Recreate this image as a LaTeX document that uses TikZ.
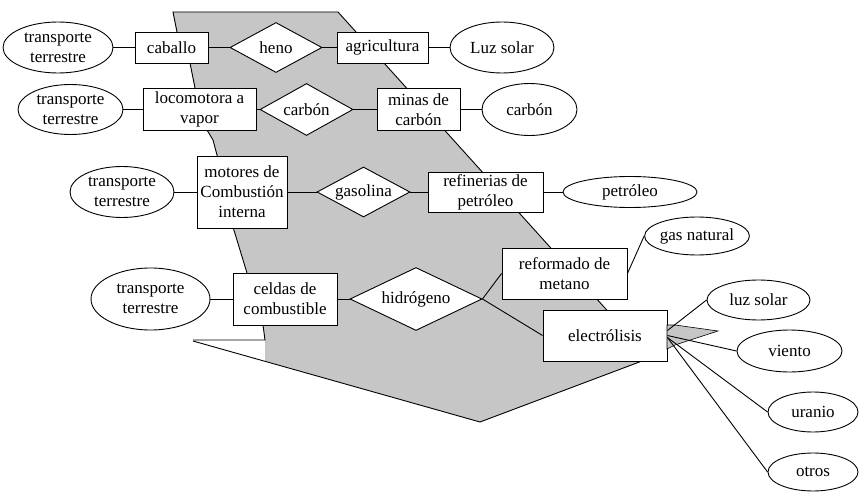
\documentclass[tikz,border=0pt]{standalone}
\usepackage{fontspec}
\setmainfont{Liberation Serif}
\usetikzlibrary{shapes.geometric}
\definecolor{bandgray}{RGB}{198,198,198}
\begin{document}
\begin{tikzpicture}[x=1pt,y=-1pt,
  every node/.style={font=\fontsize{17}{20}\selectfont, align=center, inner sep=0pt},
  box/.style={draw, fill=white, line width=0.9pt, rectangle},
  ell/.style={draw, fill=white, line width=0.9pt, ellipse},
  rel/.style={draw, fill=white, line width=0.9pt, diamond, shape aspect=2},
  conn/.style={line width=0.9pt},
  edge line/.style={line width=0.9pt}]
\useasboundingbox (0,0) rectangle (863,492);
\fill[white] (0,0) rectangle (863,492);

% big gray band
\fill[bandgray] (173,12) -- (338,12) -- (650,358) -- (480,422) -- (265,361) -- (265,340)
  -- (263,325) -- (247,273) -- (233,227) -- (217,155) -- (213,140) -- (207,130)
  -- (195,88) -- (190,63) -- (177,32) -- cycle;
\draw[edge line] (338,12) -- (173,12) -- (177,32) -- (190,63) -- (195,88) -- (207,130)
  -- (213,140) -- (217,155) -- (233,227) -- (247,273) -- (263,325) -- (265,340) -- (193,340);
\draw[edge line] (193,341) -- (480,422) -- (650,358) -- (338,12);

% row 1
\node[ell, minimum width=110pt, minimum height=51pt] (t1) at (58,47.5) {transporte\\terrestre};
\node[box, minimum width=73pt, minimum height=31pt] (caballo) at (171.5,47.5) {caballo};
\node[rel, minimum width=92pt, minimum height=50pt] (heno) at (276,47.5) {heno};
\node[box, minimum width=91pt, minimum height=31pt] (agri) at (382.5,47.5) {agricultura};
\node[ell, minimum width=104pt, minimum height=51pt] (luz1) at (502,47.5) {Luz solar};

% row 2
\node[ell, minimum width=105pt, minimum height=50pt] (t2) at (70.5,109.5) {transporte\\terrestre};
\node[box, minimum width=113pt, minimum height=42pt] (loco) at (199.5,109.5) {locomotora a\\vapor};
\node[rel, minimum width=93pt, minimum height=52pt] (carbonD) at (306.5,109.5) {carbón};
\node[box, minimum width=83pt, minimum height=42pt] (minas) at (418.5,109.5) {minas de\\carbón};
\node[ell, minimum width=95pt, minimum height=52pt] (carbonE) at (529.5,109.5) {carbón};

% row 3
\node[ell, minimum width=104pt, minimum height=51pt] (t3) at (122,192) {transporte\\terrestre};
\node[box, minimum width=90pt, minimum height=72pt] (motores) at (242,192) {motores de\\Combustión\\interna};
\node[rel, minimum width=93pt, minimum height=50pt] (gasolina) at (363.5,192) {gasolina};
\node[box, minimum width=115pt, minimum height=40pt] (refin) at (485.5,192) {refinerias de\\petróleo};
\node[ell, minimum width=134pt, minimum height=31pt] (petro) at (630,192) {petróleo};

% row 4
\node[ell, minimum width=104pt, minimum height=38pt] (gas) at (697,236) {gas natural};
\node[box, minimum width=125pt, minimum height=51pt] (reform) at (564.5,273.5) {reformado de\\metano};
\node[ell, minimum width=119pt, minimum height=62pt] (t4) at (150.5,299) {transporte\\terrestre};
\node[box, minimum width=104pt, minimum height=52pt] (celdas) at (285,299) {celdas de\\combustible};
\node[rel, minimum width=132pt, minimum height=63pt] (hidro) at (416,299) {hidrógeno};
\node[box, minimum width=124pt, minimum height=51pt] (elec) at (605,335.5) {electrólisis};

% sources of electrolysis
\node[ell, minimum width=103pt, minimum height=40pt] (luz2) at (758.5,300) {luz solar};
\node[ell, minimum width=105pt, minimum height=42pt] (viento) at (789.5,351) {viento};
\node[ell, minimum width=90pt, minimum height=40pt] (uranio) at (813,412) {uranio};
\node[ell, minimum width=90pt, minimum height=38pt] (otros) at (813,472) {otros};

% small gray flag
\filldraw[fill=bandgray, line width=0.6pt] (667,325) -- (675,325) -- (718,331) -- (675,345) -- (667,349) -- cycle;

% connectors
\draw[conn] (t1) -- (caballo);
\draw[conn] (caballo) -- (heno);
\draw[conn] (heno) -- (agri);
\draw[conn] (agri) -- (luz1);
\draw[conn] (t2) -- (loco);
\draw[conn] (loco) -- (carbonD);
\draw[conn] (carbonD) -- (minas);
\draw[conn] (minas) -- (carbonE);
\draw[conn] (t3) -- (motores);
\draw[conn] (motores) -- (gasolina);
\draw[conn] (gasolina) -- (refin);
\draw[conn] (refin) -- (petro);
\draw[conn] (t4) -- (celdas);
\draw[conn] (celdas) -- (hidro);
\draw[conn] (hidro.east) -- (reform.west);
\draw[conn] (hidro.east) -- (elec.west);
\draw[conn] (reform.east) -- (gas.west);
\draw[conn] ([yshift=5pt]elec.east) -- (luz2.west);
\draw[conn] (elec.east) -- (viento.west);
\draw[conn] ([yshift=-2pt]elec.east) -- (uranio.west);
\draw[conn] ([yshift=-2pt]elec.east) -- (otros.west);
\end{tikzpicture}
\end{document}
